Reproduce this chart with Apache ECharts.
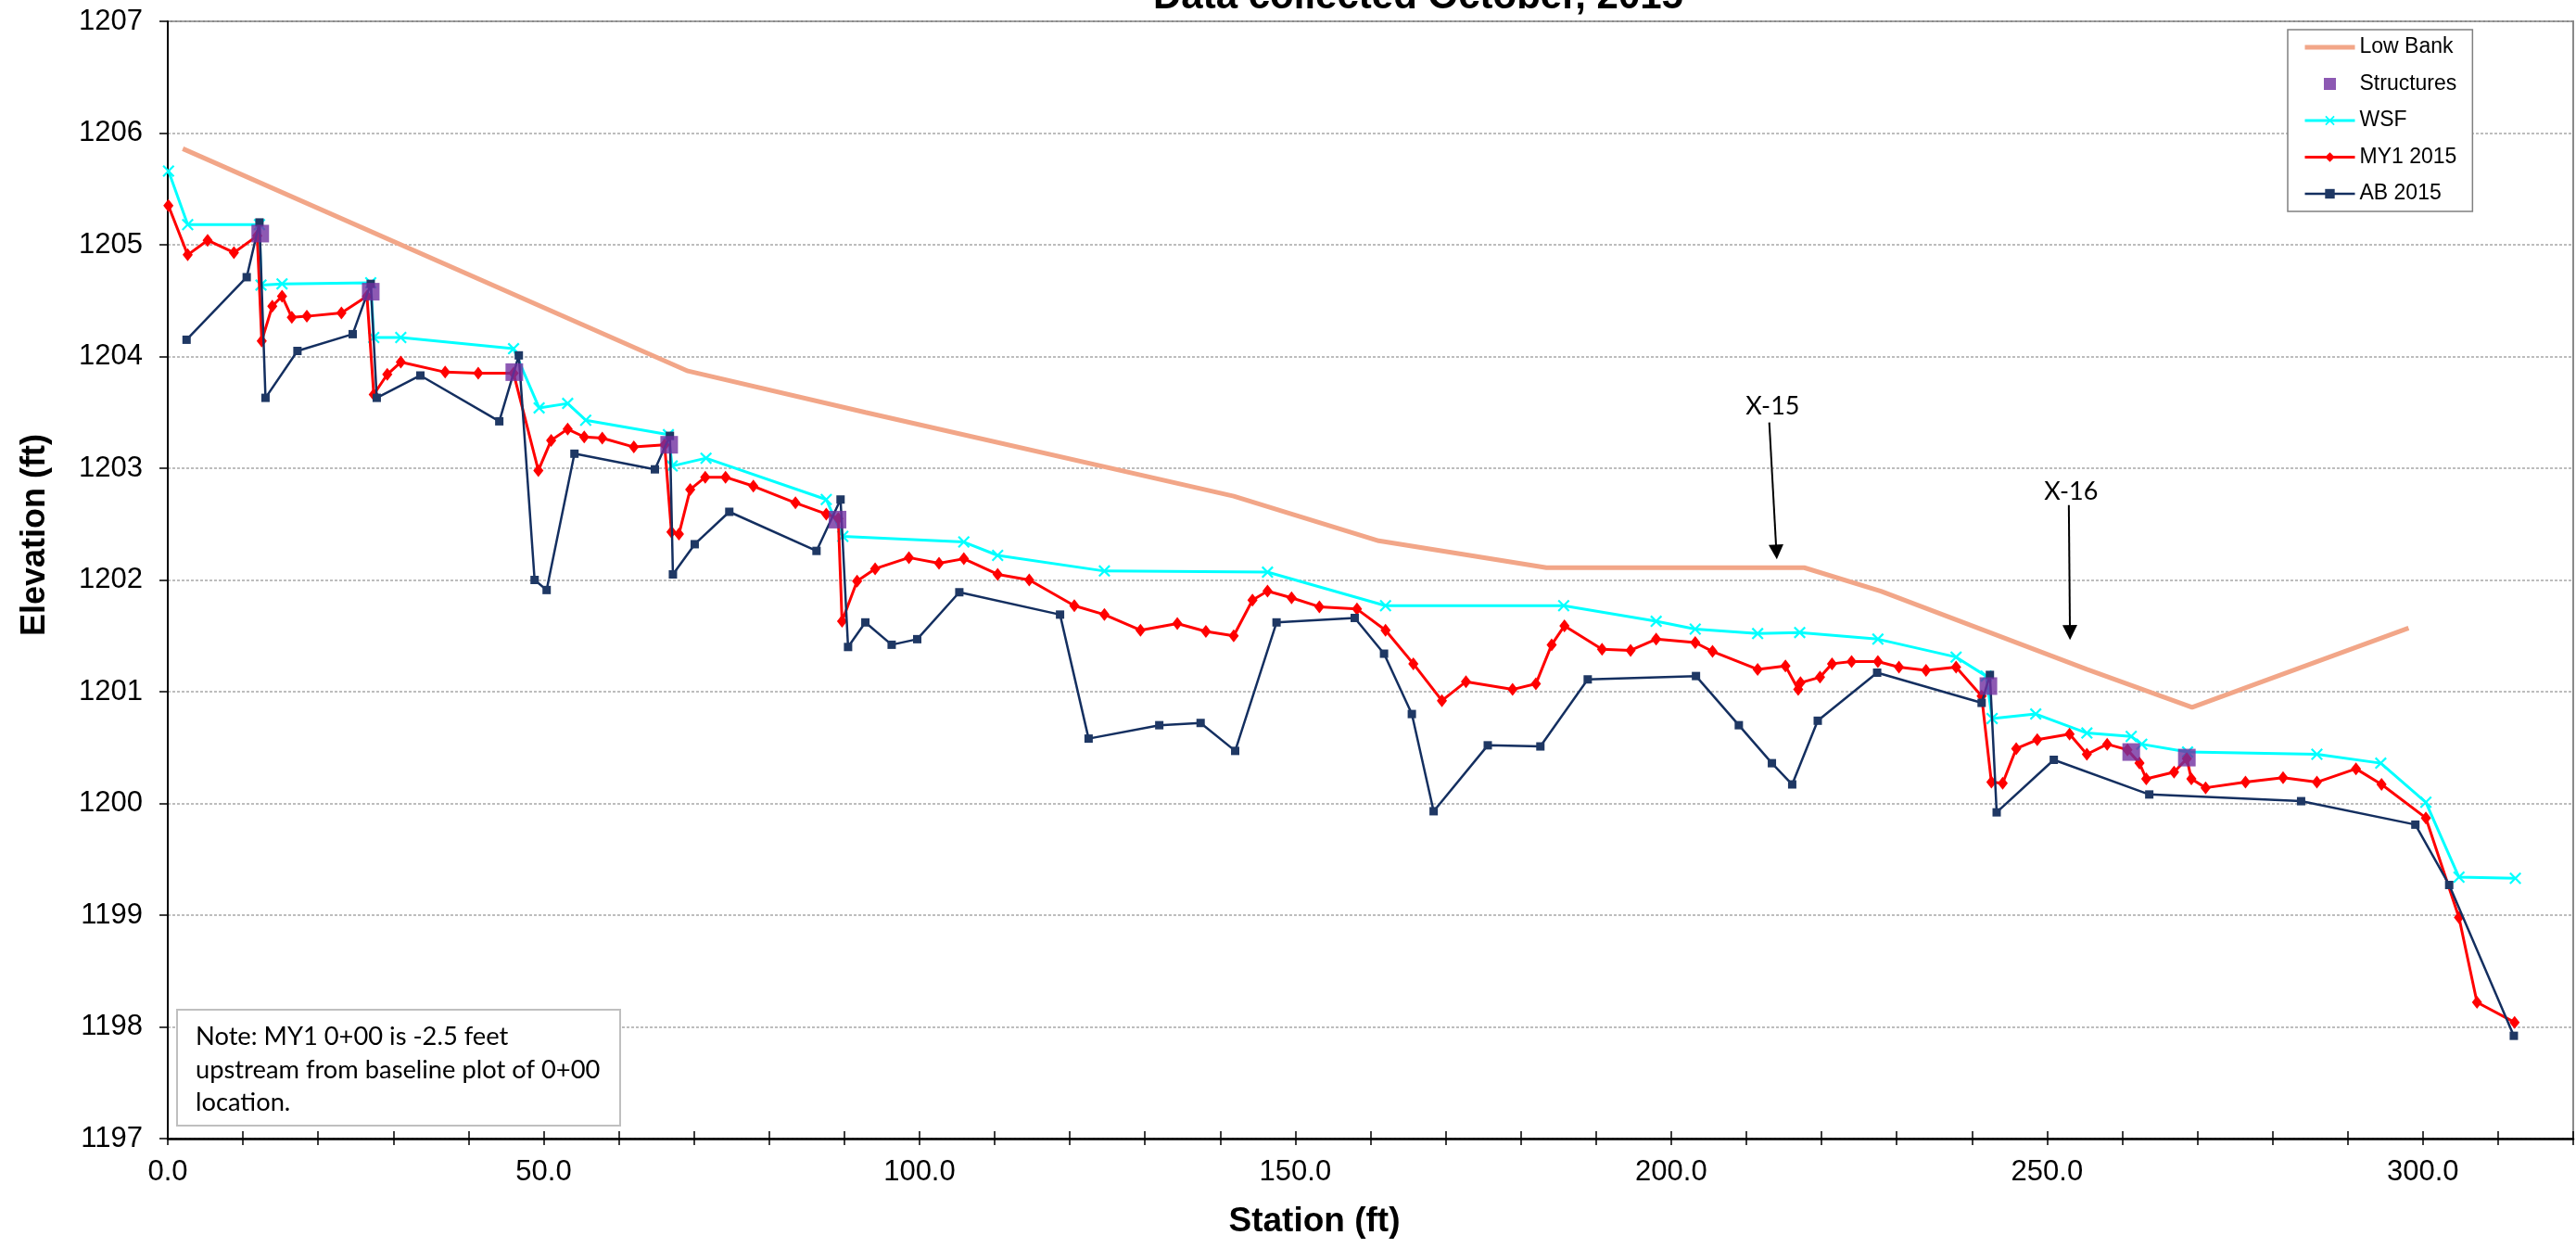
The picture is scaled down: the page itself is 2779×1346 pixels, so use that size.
<!DOCTYPE html>
<html>
<head>
<meta charset="utf-8">
<script src="https://cdn.jsdelivr.net/npm/echarts@6/dist/echarts.min.js"></script>
<style>
html,body{margin:0;padding:0;background:#fff;}
#chart{width:2779px;height:1346px;}
</style>
</head>
<body>
<div id="chart"></div>
<script>
// ---- data (station ft, elevation ft) ----
const lowBankStation = [2.0, 69.2, 92.8, 141.8, 161.1, 183.4, 217.7, 227.9, 255.3, 269.3, 298.1];
const lowBankElev    = [1205.86, 1203.87, 1203.50, 1202.75, 1202.35, 1202.11, 1202.11, 1201.90, 1201.20, 1200.86, 1201.57];

const structStation = [12.3, 27.0, 46.1, 66.7, 89.1, 242.2, 261.2, 268.6];
const structElev    = [1205.10, 1204.58, 1203.86, 1203.21, 1202.54, 1201.05, 1200.46, 1200.41];

const wsfStation = [0.1, 2.65, 12.2, 12.4, 15.2, 27.0, 27.4, 31.0, 46.0, 49.4, 53.2, 55.6, 66.6, 67.1, 71.6, 87.6, 89.8, 105.9, 110.4, 124.6, 146.3, 162.0, 185.7, 198.0, 203.2, 211.5, 217.1, 227.5, 237.9, 241.9, 242.7, 248.5, 255.3, 261.2, 262.6, 268.7, 285.9, 294.4, 300.4, 304.8, 312.3];
const wsfElev    = [1205.66, 1205.18, 1205.18, 1204.64, 1204.65, 1204.66, 1204.17, 1204.17, 1204.07, 1203.54, 1203.58, 1203.43, 1203.30, 1203.02, 1203.09, 1202.72, 1202.39, 1202.34, 1202.22, 1202.08, 1202.07, 1201.77, 1201.77, 1201.63, 1201.56, 1201.52, 1201.53, 1201.47, 1201.31, 1201.14, 1200.76, 1200.80, 1200.63, 1200.60, 1200.53, 1200.46, 1200.44, 1200.36, 1200.01, 1199.34, 1199.33];

const my1Station = [0.08, 2.65, 5.3, 8.8, 11.9, 12.5, 13.9, 15.2, 16.5, 18.5, 23.1, 26.5, 27.4, 29.2, 31.0, 36.9, 41.3, 46.0, 49.3, 51.0, 53.2, 55.4, 57.8, 62.0, 66.1, 67.0, 68.0, 69.5, 71.5, 74.2, 77.9, 83.5, 87.6, 89.2, 89.7, 91.7, 94.1, 98.6, 102.6, 105.9, 110.4, 114.6, 120.6, 124.6, 129.4, 134.3, 138.1, 141.8, 144.3, 146.3, 149.5, 153.2, 158.2, 162.0, 165.7, 169.5, 172.7, 178.9, 182.0, 184.1, 185.8, 190.8, 194.6, 198.0, 203.2, 205.5, 211.5, 215.2, 216.9, 217.2, 219.8, 221.4, 224.0, 227.5, 230.3, 233.9, 237.9, 241.3, 242.6, 244.1, 245.9, 248.7, 253.0, 255.3, 258.0, 260.7, 262.3, 263.2, 266.9, 268.6, 269.2, 271.1, 276.4, 281.4, 285.9, 291.1, 294.5, 300.4, 304.8, 307.2, 312.2];
const my1Elev    = [1205.35, 1204.91, 1205.04, 1204.93, 1205.08, 1204.14, 1204.45, 1204.54, 1204.35, 1204.36, 1204.39, 1204.54, 1203.66, 1203.84, 1203.95, 1203.86, 1203.85, 1203.85, 1202.98, 1203.25, 1203.35, 1203.28, 1203.27, 1203.19, 1203.21, 1202.43, 1202.41, 1202.81, 1202.92, 1202.92, 1202.84, 1202.69, 1202.59, 1202.55, 1201.63, 1201.99, 1202.10, 1202.20, 1202.15, 1202.19, 1202.05, 1202.00, 1201.77, 1201.69, 1201.55, 1201.61, 1201.54, 1201.50, 1201.82, 1201.90, 1201.84, 1201.76, 1201.74, 1201.55, 1201.25, 1200.92, 1201.09, 1201.02, 1201.07, 1201.42, 1201.59, 1201.38, 1201.37, 1201.47, 1201.44, 1201.36, 1201.20, 1201.23, 1201.02, 1201.08, 1201.13, 1201.25, 1201.27, 1201.27, 1201.22, 1201.19, 1201.22, 1200.96, 1200.19, 1200.18, 1200.49, 1200.57, 1200.62, 1200.44, 1200.53, 1200.48, 1200.36, 1200.22, 1200.28, 1200.40, 1200.22, 1200.14, 1200.19, 1200.23, 1200.19, 1200.31, 1200.17, 1199.87, 1198.98, 1198.22, 1198.04];

const abStation = [2.5, 10.5, 12.2, 13.0, 17.25, 24.6, 27.0, 27.8, 33.6, 44.1, 46.7, 48.8, 50.4, 54.1, 64.8, 66.8, 67.2, 70.1, 74.7, 86.3, 89.5, 90.5, 92.8, 96.3, 99.7, 105.3, 118.7, 122.5, 131.9, 137.4, 142.0, 147.5, 157.9, 161.8, 165.5, 168.4, 175.6, 182.6, 188.9, 203.3, 209.0, 213.4, 216.1, 219.5, 227.4, 241.3, 242.4, 243.3, 250.9, 263.6, 283.8, 299.0, 303.5, 312.1];
const abElev    = [1204.15, 1204.71, 1205.20, 1203.63, 1204.05, 1204.20, 1204.65, 1203.63, 1203.83, 1203.42, 1204.01, 1202.00, 1201.91, 1203.13, 1202.99, 1203.29, 1202.05, 1202.32, 1202.61, 1202.26, 1202.72, 1201.40, 1201.62, 1201.42, 1201.47, 1201.89, 1201.69, 1200.58, 1200.70, 1200.72, 1200.47, 1201.62, 1201.66, 1201.34, 1200.80, 1199.93, 1200.52, 1200.51, 1201.11, 1201.14, 1200.70, 1200.36, 1200.17, 1200.74, 1201.17, 1200.90, 1201.15, 1199.92, 1200.39, 1200.08, 1200.02, 1199.81, 1199.27, 1197.92];

// cross-section annotations
const annotationNames = ['X-15', 'X-16'];
const annotationLabelStation = [213.5, 253.2];
const annotationLabelElev = [1203.55, 1202.79];
const arrowStartStation = [213.05, 252.9];
const arrowStartElev = [1203.41, 1202.67];
const arrowEndStation = [214.0, 253.05];
const arrowEndElev = [1202.25, 1201.53];

const xMin = 0, xMax = 320, xInterval = 10, xLabelStep = 50;
const yMin = 1197, yMax = 1207, yInterval = 1;

const legendNames = ['Low Bank', 'Structures', 'WSF', 'MY1 2015', 'AB 2015'];
const titleText = 'Data collected October, 2015';
const xAxisTitle = 'Station (ft)';
const yAxisTitle = 'Elevation (ft)';
const noteLines = ['Note: MY1 0+00 is -2.5 feet', 'upstream from baseline plot of 0+00', 'location.'];

// ---- build ----
const zip = (xs, ys) => xs.map((x, i) => [x, ys[i]]);
const ARIAL = '"Liberation Sans", Arial, sans-serif';
const CALIBRI = 'Lato, "Open Sans", sans-serif';
const xCross = 'path://M0,1.2L1.2,0L5,3.8L8.8,0L10,1.2L6.2,5L10,8.8L8.8,10L5,6.2L1.2,10L0,8.8L3.8,5Z';
const squarePath = 'path://M0,0H10V10H0Z';

const chart = echarts.init(document.getElementById('chart'), null, {renderer: 'canvas'});

const xAxisBase = {
  type: 'value', min: xMin, max: xMax, interval: xInterval, gridIndex: 0, position: 'bottom',
  splitLine: {show: false}
};

const option = {
  animation: false,
  backgroundColor: '#ffffff',
  grid: {left: 181, top: 23, width: 2596, height: 1205, show: true, borderColor: '#8a8a8a', borderWidth: 2, backgroundColor: 'transparent', containLabel: false},
  legend: {
    orient: 'vertical', left: 2468, top: 32,
    data: legendNames,
    itemWidth: 54, itemHeight: 13, itemGap: 16.5,
    padding: [7.5, 17, 7.5, 16],
    borderColor: '#808080', borderWidth: 1.5, backgroundColor: '#ffffff',
    lineStyle: {width: 'inherit'},
    textStyle: {fontSize: 23, fontFamily: ARIAL, color: '#000'},
    selectedMode: false
  },
  xAxis: [
    Object.assign({}, xAxisBase, {
      axisLine: {show: true, lineStyle: {color: '#000', width: 2.5}},
      axisTick: {show: true, inside: false, length: 7, lineStyle: {color: '#000', width: 1.5}},
      axisLabel: {
        show: true, margin: 21, fontSize: 31, fontFamily: ARIAL, color: '#000',
        formatter: v => (Math.abs(v % xLabelStep) < 1e-9 ? v.toFixed(1) : '')
      }
    }),
    Object.assign({}, xAxisBase, {
      axisLine: {show: false},
      axisTick: {show: true, inside: true, length: 8, lineStyle: {color: '#000', width: 1.5}},
      axisLabel: {show: false}
    })
  ],
  yAxis: {
    type: 'value', min: yMin, max: yMax, interval: yInterval,
    axisLine: {show: true, lineStyle: {color: '#000', width: 2}},
    axisTick: {show: true, inside: false, length: 9, lineStyle: {color: '#000', width: 1.5}},
    axisLabel: {margin: 27, fontSize: 31, fontFamily: ARIAL, color: '#000', formatter: v => String(v)},
    splitLine: {show: true, lineStyle: {color: '#a8a8a8', width: 1.5, type: [3, 2]}}
  },
  series: [
    {
      name: 'Low Bank', type: 'line', data: zip(lowBankStation, lowBankElev),
      symbol: 'circle', showSymbol: false, lineStyle: {color: '#F2A688', width: 5},
      itemStyle: {color: 'rgba(0,0,0,0)', borderWidth: 0}, z: 2,
      markLine: {
        silent: true, symbol: ['none', 'triangle'], symbolSize: 16, animation: false,
        lineStyle: {color: '#000', width: 2, type: 'solid'},
        itemStyle: {color: '#000'},
        label: {show: false},
        data: annotationNames.map((n, i) => [
          {coord: [arrowStartStation[i], arrowStartElev[i]]},
          {coord: [arrowEndStation[i], arrowEndElev[i]]}
        ])
      },
      markPoint: {
        silent: true, symbol: 'rect', symbolSize: 1, itemStyle: {color: 'rgba(0,0,0,0)'}, animation: false,
        label: {show: true, position: 'inside', color: '#000', fontSize: 27, fontFamily: CALIBRI, formatter: p => p.name},
        data: annotationNames.map((n, i) => ({name: n, coord: [annotationLabelStation[i], annotationLabelElev[i]]}))
      }
    },
    {
      name: 'WSF', type: 'line', data: zip(wsfStation, wsfElev),
      symbol: xCross, symbolSize: 13, lineStyle: {color: '#00FFFF', width: 3}, itemStyle: {color: '#00FFFF'}, z: 3
    },
    {
      name: 'MY1 2015', type: 'line', data: zip(my1Station, my1Elev),
      symbol: 'diamond', symbolSize: [11, 14], lineStyle: {color: '#FF0000', width: 3}, itemStyle: {color: '#FF0000'}, z: 4
    },
    {
      name: 'AB 2015', type: 'line', data: zip(abStation, abElev),
      symbol: 'rect', symbolSize: 9, lineStyle: {color: '#142f60', width: 2.5}, itemStyle: {color: '#1F3864'}, z: 5
    },
    {
      name: 'Structures', type: 'scatter', data: zip(structStation, structElev),
      symbol: squarePath, symbolSize: 19, itemStyle: {color: '#7030A0'}, z: 6
    }
  ],
  graphic: [
    {type: 'text', x: 1530, y: -2.5, z: 10,
     style: {text: titleText, font: 'bold 42px ' + ARIAL, fill: '#000', textAlign: 'center', textVerticalAlign: 'middle'}},
    {type: 'text', x: 1418, y: 1318, z: 10,
     style: {text: xAxisTitle, font: 'bold 37px ' + ARIAL, fill: '#000', textAlign: 'center', textVerticalAlign: 'middle'}},
    {type: 'text', x: 38, y: 577, rotation: Math.PI / 2, z: 10,
     style: {text: yAxisTitle, font: 'bold 36px ' + ARIAL, fill: '#000', textAlign: 'center', textVerticalAlign: 'middle'}},
    {type: 'rect', shape: {x: 191, y: 1089, width: 478, height: 125}, z: 10,
     style: {fill: '#ffffff', stroke: '#bfbfbf', lineWidth: 2}},
    {type: 'text', x: 211, y: 1118, z: 11,
     style: {text: noteLines[0], font: '27.3px ' + CALIBRI, fill: '#000', textAlign: 'left', textVerticalAlign: 'middle'}},
    {type: 'text', x: 211, y: 1154, z: 11,
     style: {text: noteLines[1], font: '27.3px ' + CALIBRI, fill: '#000', textAlign: 'left', textVerticalAlign: 'middle'}},
    {type: 'text', x: 211, y: 1189, z: 11,
     style: {text: noteLines[2], font: '27.3px ' + CALIBRI, fill: '#000', textAlign: 'left', textVerticalAlign: 'middle'}}
  ]
};
chart.setOption(option);
</script>
</body>
</html>
